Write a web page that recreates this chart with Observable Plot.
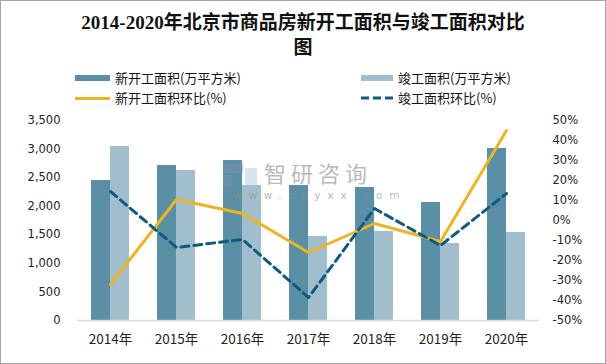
<!DOCTYPE html>
<html><head><meta charset="utf-8">
<script src="https://cdn.jsdelivr.net/npm/d3@7"></script>
<script src="https://cdn.jsdelivr.net/npm/@observablehq/plot@0.6"></script>
<style>
body{margin:0;background:#fff;}
#wrap{position:relative;width:606px;height:364px;overflow:hidden;background:#fff;font-family:"Noto Sans CJK SC",sans-serif;}
#frame{position:absolute;left:0;top:0;width:604px;height:362px;border:1px solid #a6a6a6;pointer-events:none;}
.title{position:absolute;left:0;width:606px;text-align:center;font-family:"Liberation Serif","Noto Sans CJK SC",serif;font-weight:bold;font-size:19px;color:#111;line-height:24px;}
.leg{position:absolute;font-size:13px;color:#111;line-height:16px;white-space:nowrap;}
.sw{position:absolute;}
#chart{position:absolute;left:0;top:110px;}
.wm{position:absolute;color:#8c8c8c;opacity:0.6;white-space:nowrap;}
</style></head>
<body>
<div id="wrap">
  <div class="title" style="top:11px">2014-2020年北京市商品房新开工面积与竣工面积对比</div>
  <div class="title" style="top:36px">图</div>

  <div class="sw" style="left:75px;top:75px;width:35px;height:6px;background:#5B8FA6"></div>
  <div class="leg" style="left:115px;top:70px">新开工面积(万平方米)</div>
  <div class="sw" style="left:361px;top:75px;width:32px;height:6px;background:#A0BECB"></div>
  <div class="leg" style="left:398px;top:70px">竣工面积(万平方米)</div>

  <div class="sw" style="left:75px;top:97px;width:35px;height:3px;background:#F0B323"></div>
  <div class="leg" style="left:115px;top:90px">新开工面积环比(%)</div>
  <svg class="sw" style="left:361px;top:95px" width="33" height="6"><line x1="0" y1="3" x2="33" y2="3" stroke="#0D5C80" stroke-width="3" stroke-dasharray="8,4"/></svg>
  <div class="leg" style="left:398px;top:90px">竣工面积环比(%)</div>

  <div id="chart"></div>

  <svg class="sw" style="left:223px;top:164px;opacity:0.45" width="34" height="22"><rect x="0" y="0" width="20" height="9" fill="#7d93b8"/><rect x="0" y="11" width="9" height="11" fill="#7d93b8"/><rect x="22" y="4" width="12" height="18" fill="#a9c4e0"/></svg>
  <div class="wm" style="left:264px;top:161px;font-size:22px;letter-spacing:5px;line-height:22px">智研咨询</div>
  <div class="wm" style="left:233px;top:189px;font-size:10.5px;letter-spacing:6.8px;font-family:'DejaVu Sans',sans-serif;line-height:12px">www.chyxx.com</div>
  <div id="frame"></div>
</div>
<script>
const years = ["2014年","2015年","2016年","2017年","2018年","2019年","2020年"];
const newStartArea = [2450, 2712, 2800, 2362, 2327, 2065, 3010];
const completedArea = [3045, 2625, 2362, 1470, 1557, 1347, 1540];
const newStartPct = [-32, 10.5, 3.5, -16, -1.5, -10.5, 45];
const completedPct = [14.5, -13.5, -9.5, -38.5, 6, -12.5, 13.5];
const leftTicks = [0, 500, 1000, 1500, 2000, 2500, 3000, 3500];
const rightTicks = [-50, -40, -30, -20, -10, 0, 10, 20, 30, 40, 50];

const table = years.map((y, i) => ({
  year: y,
  start: newStartArea[i],
  comp: completedArea[i],
  startPct: newStartPct[i],
  compPct: completedPct[i]
}));

// map right-axis percent onto left-axis units (-50%..50% -> 0..3500)
const toLeft = p => (p + 50) / 100 * 3500;
const fromLeft = v => Math.round(v / 35 - 50);

const chart = Plot.plot({
  width: 606,
  height: 254,
  marginTop: 10,
  marginBottom: 44,
  marginLeft: 77,
  marginRight: 67,
  style: {fontFamily: "'DejaVu Sans', sans-serif", fontSize: "11.5px", color: "#222", background: "transparent", overflow: "visible"},
  x: {type: "band", domain: years, padding: 0},
  y: {domain: [0, 3500]},
  marks: [
    Plot.barY(table, {x: "year", y: "start", fill: "#5B8FA6", insetLeft: 14, insetRight: 33}),
    Plot.barY(table, {x: "year", y: "comp", fill: "#A0BECB", insetLeft: 33, insetRight: 14}),
    Plot.ruleY([0], {stroke: "#d9d9d9", strokeWidth: 1.5}),
    Plot.line(table, {x: "year", y: d => toLeft(d.startPct), stroke: "#F0B323", strokeWidth: 3}),
    Plot.line(table, {x: "year", y: d => toLeft(d.compPct), stroke: "#0D5C80", strokeWidth: 3, strokeDasharray: "8,5"}),
    Plot.axisY(leftTicks, {anchor: "left", tickSize: 0, tickPadding: 17, tickFormat: d3.format(","), label: null}),
    Plot.axisY(rightTicks.map(toLeft), {anchor: "right", tickSize: 0, tickPadding: 13, tickFormat: v => fromLeft(v) + "%", label: null}),
    Plot.axisX({tickSize: 0, tickPadding: 14, fontSize: 13.5, fontFamily: "'Noto Sans CJK SC', sans-serif", label: null})
  ]
});
document.getElementById("chart").appendChild(chart);
</script>
</body></html>
